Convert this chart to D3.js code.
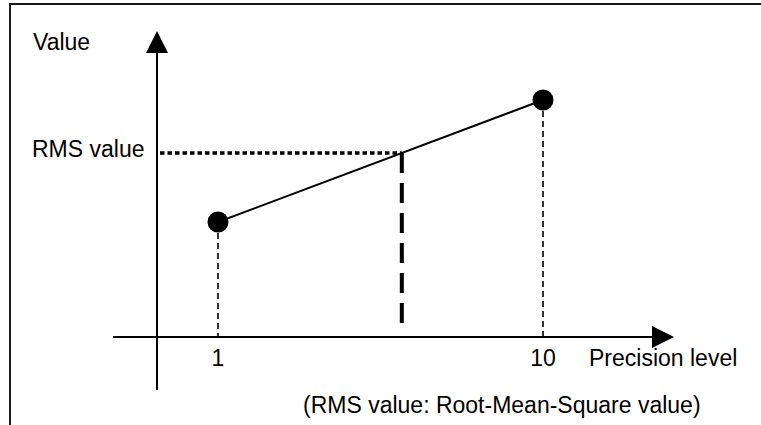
<!DOCTYPE html>
<html>
<head>
<meta charset="utf-8">
<script src="https://cdn.jsdelivr.net/npm/d3@7"></script>
<style>
  html, body { margin: 0; padding: 0; background: #fff; }
  svg { display: block; }
  text { font-family: "Liberation Sans", Arial, sans-serif; fill: #000; font-size: 23px; }
</style>
</head>
<body>
<svg id="chart" width="761" height="425"></svg>
<script>
// Precision levels and the value measured at each of them
const levels = [1, 10];
const values = [11.5, 23.7];
const levelLabels = ["1", "10"];
// Root-mean-square value of the measurements
const rmsValue = [18.4];

const svg = d3.select("#chart");
const W = 761, H = 425;
const FONT = "'Liberation Sans', Arial, sans-serif";

// Frame
svg.append("rect")
  .attr("x", 10).attr("y", 4)
  .attr("width", W + 20).attr("height", H + 20)
  .attr("fill", "none").attr("stroke", "#1a1a1a").attr("stroke-width", 2);

const x = d3.scaleLinear().domain([1, 10]).range([218, 543]);
const y = d3.scaleLinear().domain([0, 30]).range([337, 37]);

// Axes (origin at value 0, y axis drawn left of level 1)
const axisX = 157;
const axisY = y(0);

// y axis with arrow head
svg.append("line")
  .attr("x1", axisX).attr("x2", axisX)
  .attr("y1", 390).attr("y2", 52)
  .attr("stroke", "#000").attr("stroke-width", 2);
svg.append("path")
  .attr("d", `M${axisX},31 L${axisX - 11},53 L${axisX + 11},53 Z`)
  .attr("fill", "#000");

// x axis with arrow head
svg.append("line")
  .attr("x1", 113).attr("x2", 653)
  .attr("y1", axisY).attr("y2", axisY)
  .attr("stroke", "#000").attr("stroke-width", 2);
svg.append("path")
  .attr("d", `M674,${axisY} L652,${axisY - 11} L652,${axisY + 11} Z`)
  .attr("fill", "#000");

const pts = levels.map((l, i) => ({ level: l, value: values[i], label: levelLabels[i] }));

// Drop lines from each measurement to the x axis
svg.selectAll("line.drop").data(pts).enter().append("line")
  .attr("class", "drop")
  .attr("x1", d => x(d.level)).attr("x2", d => x(d.level))
  .attr("y1", d => y(d.value) + 11).attr("y2", axisY)
  .attr("stroke", "#000").attr("stroke-width", 1.6)
  .attr("stroke-dasharray", "6,4");

// Level where the connecting line reaches the RMS value
const rms = rmsValue[0];
const t = (rms - values[0]) / (values[1] - values[0]);
const rmsLevel = levels[0] + t * (levels[1] - levels[0]);

// RMS value: dotted horizontal guide and thick dashed drop
svg.append("line")
  .attr("x1", axisX + 3).attr("x2", x(rmsLevel))
  .attr("y1", y(rms)).attr("y2", y(rms))
  .attr("stroke", "#000").attr("stroke-width", 3.5)
  .attr("stroke-dasharray", "4.5,3");
svg.append("line")
  .attr("x1", x(rmsLevel)).attr("x2", x(rmsLevel))
  .attr("y1", y(rms)).attr("y2", axisY - 14)
  .attr("stroke", "#000").attr("stroke-width", 4)
  .attr("stroke-dasharray", "20,10");

// Connecting line
svg.append("path")
  .datum(pts)
  .attr("d", d3.line().x(d => x(d.level)).y(d => y(d.value)))
  .attr("fill", "none").attr("stroke", "#000").attr("stroke-width", 2);

// Measurement points
svg.selectAll("circle.pt").data(pts).enter().append("circle")
  .attr("class", "pt")
  .attr("cx", d => x(d.level)).attr("cy", d => y(d.value))
  .attr("r", 10.5).attr("fill", "#000");

// Level labels
svg.selectAll("text.lvl").data(pts).enter().append("text")
  .attr("class", "lvl")
  .attr("x", d => x(d.level)).attr("y", 366)
  .attr("text-anchor", "middle")
  .attr("font-family", FONT)
  .text(d => d.label);

svg.append("text").attr("x", 33).attr("y", 50).text("Value");
svg.append("text").attr("x", 32).attr("y", 157).text("RMS value");
svg.append("text").attr("x", 589).attr("y", 366).text("Precision level");
svg.append("text").attr("x", 303).attr("y", 413)
  .text("(RMS value: Root-Mean-Square value)");
</script>
</body>
</html>
